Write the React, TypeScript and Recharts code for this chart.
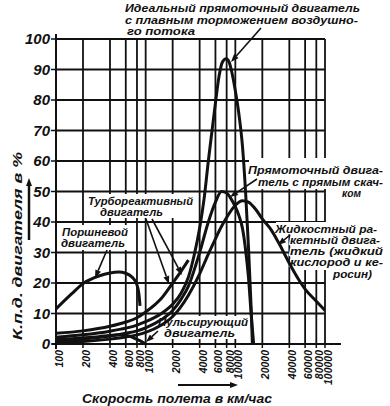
import React from 'react';
import { LineChart, Line, XAxis, YAxis, CartesianGrid, Customized } from 'recharts';

// ---- data ----
const speedTicks = [100, 200, 400, 600, 800, 1000, 2000, 4000, 6000, 8000, 10000, 20000, 40000, 60000, 80000, 100000];
const effTicks = [0, 10, 20, 30, 40, 50, 60, 70, 80, 90, 100];

const pistonSpeed = [100, 150, 200, 300, 400, 500, 600, 700, 790, 840, 865];
const pistonEff = [11.5, 16.5, 19.8, 22.3, 23.3, 23.6, 23.2, 22.0, 19.8, 16.5, 12.5];

const pulseSpeed = [100, 200, 300, 400, 500, 600, 700, 800, 900, 1000];
const pulseEff = [1.5, 2.0, 2.4, 2.8, 3.0, 2.9, 2.3, 1.5, 0.8, 0];

const turboSpeed = [100, 200, 400, 600, 800, 1000, 1500, 2000, 2500, 3000];
const turboEff = [3.5, 4.3, 5.8, 7.2, 8.6, 10.5, 15.0, 20.0, 24.0, 27.5];

const idealSpeed = [100, 200, 400, 600, 800, 1000, 1500, 2000, 2500, 3000, 3500, 4000, 4500, 5000, 5500, 6000, 6600, 7200, 7900, 8500, 9000, 10000, 11000, 12000, 13000, 14000, 15000, 15500];
const idealEff = [2.2, 3.0, 4.2, 5.2, 6.2, 7.3, 10.0, 13.0, 16.8, 22, 29.5, 38, 48, 60, 70, 79, 88, 92.5, 93.5, 92.5, 90, 83, 75, 65, 50, 32, 12, 0];

const shockSpeed = [100, 200, 400, 600, 800, 1000, 1500, 2000, 2500, 3000, 4000, 5000, 6000, 7000, 8000, 9000, 10000, 11000, 12000, 13000, 14000, 15000, 16000];
const shockEff = [1.0, 1.6, 2.6, 3.5, 4.3, 5.3, 8.0, 11.0, 14.8, 19, 30, 40, 46.5, 50, 49.5, 47.5, 45, 42, 38, 31, 22, 10, 0];

const rocketSpeed = [100, 200, 400, 600, 800, 1000, 1500, 2000, 3000, 4000, 5000, 6000, 7000, 8000, 10000, 12000, 14000, 17000, 20000, 25000, 30000, 40000, 50000, 60000, 80000, 100000];
const rocketEff = [0.4, 0.8, 1.6, 2.3, 3.0, 3.8, 6.2, 9.0, 16, 23, 29.5, 34.5, 38.5, 41.5, 45.5, 47, 46.5, 44, 41, 37.5, 33.5, 26.5, 21.5, 18, 14, 11];

const rows = (xs: number[], ys: number[]) => xs.map((v, i) => ({ v, e: ys[i] }));

const series = [
  rows(pistonSpeed, pistonEff),
  rows(pulseSpeed, pulseEff),
  rows(turboSpeed, turboEff),
  rows(idealSpeed, idealEff),
  rows(shockSpeed, shockEff),
  rows(rocketSpeed, rocketEff),
];

// ---- style ----
const INK = '#111';
const FONT = "'Liberation Sans', Arial, sans-serif";
const W = 390;
const H = 406;

function Arrow({ x1, y1, x2, y2, w = 1.6 }: { x1: number; y1: number; x2: number; y2: number; w?: number }) {
  const a = Math.atan2(y2 - y1, x2 - x1);
  const L = 8;
  const hw = 3;
  const bx = x2 - L * Math.cos(a);
  const by = y2 - L * Math.sin(a);
  const px = -Math.sin(a) * hw;
  const py = Math.cos(a) * hw;
  return (
    <g>
      <line x1={x1} y1={y1} x2={bx} y2={by} stroke={INK} strokeWidth={w} />
      <polygon points={`${x2},${y2} ${bx + px},${by + py} ${bx - px},${by - py}`} fill={INK} />
    </g>
  );
}

// [text, x, baseline y, width]
type Ln = [string, number, number, number];

function Label({ lines }: { lines: Ln[] }) {
  return (
    <g>
      {lines.map(([t, x, y, w], i) => (
        <text
          key={i}
          x={x}
          y={y}
          textLength={w}
          lengthAdjust="spacingAndGlyphs"
          fontFamily={FONT}
          fontSize={11}
          fontWeight="bold"
          fontStyle="italic"
          fill={INK}
          stroke="#fff"
          strokeWidth={2.5}
          paintOrder="stroke"
          strokeLinejoin="round"
        >
          {t}
        </text>
      ))}
    </g>
  );
}

function Backdrops() {
  return (
    <g>
      <rect x={86} y={194} width={110} height={24} fill="#fff" />
      <rect x={59} y={225} width={72} height={25} fill="#fff" />
      <rect x={249} y={158} width={139} height={31} fill="#fff" />
      <rect x={276} y={222} width={106} height={12} fill="#fff" />
      <rect x={291} y={234} width={96} height={36} fill="#fff" />
      <rect x={331} y={269} width={46} height={12} fill="#fff" />
      <rect x={168} y={316} width={80} height={23} fill="#fff" />
      {/* axis extensions */}
      <line x1={56} y1={34} x2={56} y2={349} stroke={INK} strokeWidth={2} />
      <line x1={52} y1={344} x2={341} y2={344} stroke={INK} strokeWidth={2} />
    </g>
  );
}

function Annotations() {
  return (
    <g>
      <Label
        lines={[
          ['Идеальный прямоточный двигатель', 125, 12, 235],
          ['с плавным торможением воздушно-', 125, 24, 233],
          ['го потока', 127, 35, 68],
        ]}
      />
      <Arrow x1={261} y1={28} x2={231} y2={62} />

      <Label lines={[['Турбореактивный', 88, 205, 105], ['двигатель', 100, 216, 63]]} />
      <Arrow x1={146} y1={219} x2={169} y2={284} />
      <Arrow x1={152} y1={219} x2={182} y2={275} />

      <Label lines={[['Поршневой', 62, 236, 66], ['двигатель', 61, 247, 64]]} />
      <Arrow x1={107} y1={250} x2={95} y2={278} />

      <Label
        lines={[
          ['Прямоточный двига-', 248, 174, 135],
          ['тель с прямым скач-', 258, 186, 125],
          ['ком', 342, 197, 19],
        ]}
      />
      <Arrow x1={257} y1={179} x2={230} y2={197} />

      <Label
        lines={[
          ['Жидкостный ра-', 275, 233, 102],
          ['кетный двига-', 290, 244, 90],
          ['тель (жидкий', 290, 255, 93],
          ['кислород и ке-', 290, 266, 93],
          ['росин)', 333, 278, 39],
        ]}
      />
      <Arrow x1={290} y1={235} x2={278} y2={245} />

      <Label lines={[['Пульсирующий', 158, 326, 90], ['двигатель', 164, 337, 71]]} />
      <Arrow x1={158} y1={331} x2={146} y2={342} />

      {/* axis titles */}
      <text
        transform="translate(22,246) rotate(-90)"
        textAnchor="middle"
        textLength={188}
        lengthAdjust="spacingAndGlyphs"
        fontFamily={FONT}
        fontSize={13}
        fontWeight="bold"
        fontStyle="italic"
        fill={INK}
      >
        К.п.д. двигателя в %
      </text>
      <Arrow x1={29} y1={240} x2={29} y2={178} w={2.5} />

      <text
        x={82}
        y={403}
        textLength={190}
        lengthAdjust="spacingAndGlyphs"
        fontFamily={FONT}
        fontSize={12.5}
        fontWeight="bold"
        fontStyle="italic"
        fill={INK}
      >
        Скорость полета в км/час
      </text>
      <Arrow x1={178} y1={385} x2={238} y2={385} w={2} />
    </g>
  );
}

const XTick = (props: any) => {
  const { x, y, payload } = props;
  return (
    <text
      transform={`translate(${x + 7},${y}) rotate(-90)`}
      textAnchor="end"
      fontFamily={FONT}
      fontSize={10.5}
      fontWeight="bold"
      fontStyle="italic"
      fill={INK}
    >
      {payload.value}
    </text>
  );
};

const YTick = (props: any) => {
  const { x, y, payload } = props;
  return (
    <text
      x={x}
      y={y + 5}
      textAnchor="end"
      fontFamily={FONT}
      fontSize={15}
      fontWeight="bold"
      fontStyle="italic"
      fill={INK}
    >
      {payload.value}
    </text>
  );
};

export default function App() {
  return (
    <div style={{ position: 'absolute', left: 0, top: 0, width: W, height: H, background: '#fff' }}>
      <LineChart width={W} height={H} margin={{ top: 39, right: 65, bottom: 32, left: 16 }}>
        <CartesianGrid stroke={INK} strokeWidth={1.8} strokeOpacity={1} />
        <XAxis
          dataKey="v"
          type="number"
          scale="log"
          domain={[100, 100000]}
          ticks={speedTicks}
          interval={0}
          height={30}
          tickSize={4}
          tick={XTick}
          axisLine={{ stroke: INK, strokeWidth: 2 }}
          tickLine={{ stroke: INK, strokeWidth: 1.5 }}
          allowDataOverflow
        />
        <YAxis
          type="number"
          domain={[0, 100]}
          ticks={effTicks}
          interval={0}
          width={40}
          tickSize={5}
          tickMargin={1}
          tick={YTick}
          axisLine={{ stroke: INK, strokeWidth: 2 }}
          tickLine={{ stroke: INK, strokeWidth: 1.5 }}
        />
        <Customized component={Backdrops} />
        {series.map((d, i) => (
          <Line
            key={i}
            data={d}
            dataKey="e"
            type="monotone"
            stroke={INK}
            strokeWidth={3}
            dot={false}
            activeDot={false}
            isAnimationActive={false}
          />
        ))}
        <Customized component={Annotations} />
      </LineChart>
    </div>
  );
}
